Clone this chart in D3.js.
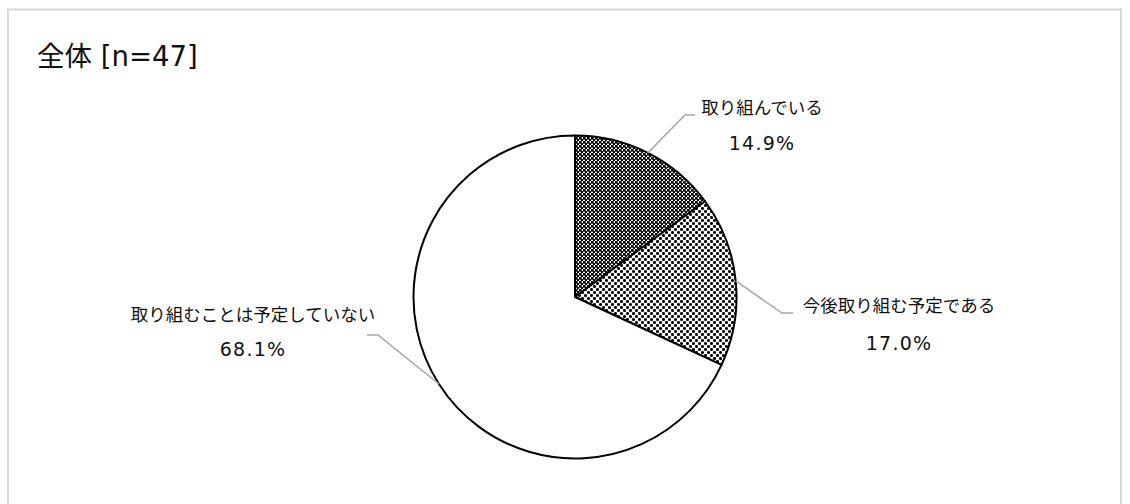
<!DOCTYPE html>
<html>
<head>
<meta charset="utf-8">
<script src="https://cdn.jsdelivr.net/npm/d3@7"></script>
<style>
  html, body { margin: 0; padding: 0; background: #fff; }
  svg { display: block; }
</style>
</head>
<body>
<svg id="chart" width="1130" height="504"></svg>
<script>
// Survey result: share of respondents by status
const title = "全体 [n=47]";
const categories = ["取り組んでいる", "今後取り組む予定である", "取り組むことは予定していない"];
const values = [14.9, 17.0, 68.1];
const valueLabels = ["14.9%", "17.0%", "68.1%"];

const W = 1130, H = 504;
const cx = 575, cy = 297, R = 161.5;

const svg = d3.select("#chart");

// outer frame
svg.append("rect")
  .attr("x", 8).attr("y", 9.5)
  .attr("width", 1113).attr("height", 520)
  .attr("fill", "none")
  .attr("stroke", "#d9d9d9")
  .attr("stroke-width", 2);

// fill patterns
const defs = svg.append("defs");

const p1 = defs.append("pattern")
  .attr("id", "pat-dark")
  .attr("patternUnits", "userSpaceOnUse")
  .attr("width", 4).attr("height", 4);
p1.append("rect").attr("width", 4).attr("height", 4).attr("fill", "#ffffff");
p1.append("rect").attr("x", 0).attr("y", 0).attr("width", 2).attr("height", 2).attr("fill", "#000");
p1.append("rect").attr("x", 2).attr("y", 2).attr("width", 2).attr("height", 2).attr("fill", "#000");
p1.append("rect").attr("x", 2).attr("y", 0).attr("width", 1).attr("height", 2).attr("fill", "#5a5a5a");
p1.append("rect").attr("x", 0).attr("y", 2).attr("width", 2).attr("height", 1).attr("fill", "#5a5a5a");

const p2 = defs.append("pattern")
  .attr("id", "pat-light")
  .attr("patternUnits", "userSpaceOnUse")
  .attr("width", 6).attr("height", 6);
p2.append("rect").attr("width", 6).attr("height", 6).attr("fill", "#ffffff");
[[1,0],[0,1],[1,1],[2,1],[1,2],[4,3],[3,4],[4,4],[5,4],[4,5]].forEach(([x, y]) => {
  p2.append("rect").attr("x", x).attr("y", y).attr("width", 1).attr("height", 1).attr("fill", "#000");
});
[[0,0],[2,0],[0,2],[2,2],[3,3],[5,3],[3,5],[5,5]].forEach(([x, y]) => {
  p2.append("rect").attr("x", x).attr("y", y).attr("width", 1).attr("height", 1).attr("fill", "#5e5e5e");
});

const fills = ["url(#pat-dark)", "url(#pat-light)", "#ffffff"];

// title
svg.append("text")
  .attr("x", 37).attr("y", 66)
  .attr("font-family", "'DejaVu Sans', 'Noto Sans CJK JP', sans-serif")
  .attr("font-size", 27.5)
  .attr("fill", "#111")
  .text(title);

// pie
const pie = d3.pie().sort(null).value(d => d)(values);
const arc = d3.arc().innerRadius(0).outerRadius(R);

const g = svg.append("g").attr("transform", `translate(${cx},${cy})`);
g.selectAll("path.slice")
  .data(pie)
  .join("path")
  .attr("class", "slice")
  .attr("d", arc)
  .attr("fill", (d, i) => fills[i])
  .attr("stroke", "#000")
  .attr("stroke-width", 2)
  .attr("stroke-linejoin", "round");

// label layout: text centre x, baselines of the two lines, elbow and end of the leader
const labelLayout = [
  { x: 762, y1: 114, y2: 150, elbow: [685, 115], end: [695, 115] },
  { x: 899, y1: 312, y2: 350, elbow: [782, 313], end: [793, 313] },
  { x: 253, y1: 321, y2: 356, elbow: [378, 335], end: [367, 335] }
];

pie.forEach((d, i) => {
  const L = labelLayout[i];
  const mid = (d.startAngle + d.endAngle) / 2;
  const sx = cx + R * Math.sin(mid);
  const sy = cy - R * Math.cos(mid);

  svg.append("polyline")
    .attr("points", [[sx, sy], L.elbow, L.end].map(p => p.join(",")).join(" "))
    .attr("fill", "none")
    .attr("stroke", "#a6a6a6")
    .attr("stroke-width", 1.5);

  svg.append("text")
    .attr("x", L.x).attr("y", L.y1)
    .attr("text-anchor", "middle")
    .attr("font-family", "'Noto Sans CJK JP', sans-serif")
    .attr("font-size", 17.5)
    .attr("fill", "#111")
    .text(categories[i]);

  svg.append("text")
    .attr("x", L.x).attr("y", L.y2)
    .attr("text-anchor", "middle")
    .attr("font-family", "'DejaVu Sans', sans-serif")
    .attr("font-size", 19)
    .attr("letter-spacing", 1.2)
    .attr("fill", "#111")
    .text(valueLabels[i]);
});
</script>
</body>
</html>
